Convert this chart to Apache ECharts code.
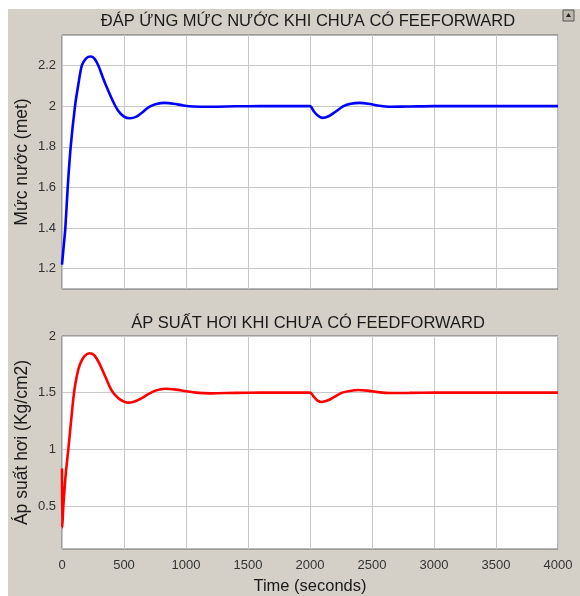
<!DOCTYPE html>
<html>
<head>
<meta charset="utf-8">
<script src="https://cdn.jsdelivr.net/npm/echarts@6/dist/echarts.min.js"></script>
<style>
  html, body { margin: 0; padding: 0; background: #fff; }
  #main { width: 580px; height: 596px; }
</style>
</head>
<body>
<div id="main"></div>
<script>
// muc nuoc (tren)
var levelTime = [0, 12, 27, 46, 70, 105, 130, 160, 195, 230, 260, 293, 330, 370, 410, 450, 500, 548, 600, 650, 700, 760, 830, 900, 980, 1060, 1200, 1400, 1600, 2000,
                 2030, 2060, 2100, 2150, 2200, 2270, 2330, 2400, 2470, 2560, 2650, 2800, 3000, 4000];
var levelValue = [1.22, 1.3, 1.4, 1.6, 1.8, 2.0, 2.1, 2.2, 2.235, 2.244, 2.235, 2.2, 2.14, 2.08, 2.025, 1.98, 1.948, 1.94, 1.948, 1.97, 1.995, 2.01, 2.016, 2.012, 2.003, 1.998, 1.997, 1.999, 2.0, 2.0,
                  1.975, 1.955, 1.942, 1.95, 1.97, 2.0, 2.012, 2.016, 2.012, 2.002, 1.997, 1.998, 2.0, 2.0];

// ap suat hoi (duoi)
var pressTime = [0, 2, 11, 30, 51, 75, 97, 120, 145, 180, 220, 260, 300, 350, 400, 450, 500, 527, 580, 640, 700, 760, 830, 920, 1000, 1100, 1200, 1400, 1600, 2000,
                 2030, 2060, 2093, 2140, 2200, 2260, 2320, 2388, 2460, 2550, 2644, 2800, 3000, 4000];
var pressValue = [0.83, 0.31, 0.5, 0.78, 1.0, 1.27, 1.5, 1.65, 1.75, 1.82, 1.848, 1.83, 1.76, 1.64, 1.52, 1.455, 1.42, 1.412, 1.42, 1.45, 1.49, 1.52, 1.535, 1.527, 1.512, 1.498, 1.494, 1.498, 1.5, 1.5,
                  1.465, 1.43, 1.418, 1.43, 1.465, 1.5, 1.515, 1.523, 1.518, 1.505, 1.497, 1.498, 1.5, 1.5];

var levelTicks = [1.2, 1.4, 1.6, 1.8, 2, 2.2];
var pressTicks = [0.5, 1, 1.5, 2];

function pairs(t, v) {
    return t.map(function (x, i) { return [x, v[i]]; });
}

var font = 'Liberation Sans, Arial, sans-serif';
var myChart = echarts.init(document.getElementById('main'));

function xAxis(idx, showLabel) {
    return {
        type: 'value', gridIndex: idx, min: 0, max: 4000, interval: 500,
        axisLine: {show: false},
        axisTick: {show: false},
        axisLabel: {show: showLabel, color: '#333', fontSize: 13, fontFamily: font, margin: 10,
                    formatter: function (v) { return String(v); }},
        splitLine: {show: true, lineStyle: {color: '#c8c8c8', width: 1}},
        name: showLabel ? 'Time (seconds)' : '',
        nameLocation: 'middle', nameGap: 29,
        nameTextStyle: {color: '#1a1a1a', fontSize: 16.5, fontFamily: font}
    };
}

function yAxis(idx, min, max, ticks, name) {
    return {
        type: 'value', gridIndex: idx, min: min, max: max,
        axisLine: {show: false},
        axisTick: {show: false, customValues: ticks},
        axisLabel: {color: '#333', fontSize: 13, fontFamily: font, margin: 6, customValues: ticks},
        splitLine: {show: true, lineStyle: {color: '#c8c8c8', width: 1}},
        name: name, nameLocation: 'middle', nameGap: 31, nameRotate: 90, nameMoveOverlap: false,
        nameTextStyle: {color: '#1a1a1a', fontSize: 17.5, fontFamily: font}
    };
}

option = {
    backgroundColor: '#d4d0c8',
    animation: false,
    graphic: [
        {type: 'rect', shape: {x: 0, y: 0, width: 580, height: 9}, style: {fill: '#fff'}},
        {type: 'rect', shape: {x: 0, y: 0, width: 8, height: 596}, style: {fill: '#fff'}},
        {type: 'rect', shape: {x: 563, y: 10, width: 11, height: 11}, style: {fill: '#bdb8ae', stroke: '#555', lineWidth: 1}},
        {type: 'polygon', shape: {points: [[566, 17], [568.5, 13], [571, 17]]}, style: {fill: '#222'}},
        {type: 'text', x: 308, y: 21, style: {text: 'ĐÁP ỨNG MỨC NƯỚC KHI CHƯA CÓ FEEFORWARD', fill: '#1a1a1a', font: '16.5px ' + font, textAlign: 'center', textVerticalAlign: 'middle'}},
        {type: 'text', x: 308, y: 323, style: {text: 'ÁP SUẤT HƠI KHI CHƯA CÓ FEEDFORWARD', fill: '#1a1a1a', font: '16.5px ' + font, textAlign: 'center', textVerticalAlign: 'middle'}}
    ],
    grid: [
        {left: 62, top: 35, width: 496, height: 254, show: true, backgroundColor: '#fff', borderColor: '#6a6a6a', borderWidth: 1},
        {left: 62, top: 336, width: 496, height: 214, show: true, backgroundColor: '#fff', borderColor: '#6a6a6a', borderWidth: 1}
    ],
    xAxis: [xAxis(0, false), xAxis(1, true)],
    yAxis: [
        yAxis(0, 1.1, 2.35, levelTicks, 'Mức nước (met)'),
        yAxis(1, 0.12, 2, pressTicks, 'Áp suất hơi (Kg/cm2)')
    ],
    series: [
        {
            name: 'Mức nước', type: 'line', xAxisIndex: 0, yAxisIndex: 0,
            data: pairs(levelTime, levelValue),
            showSymbol: false, smooth: 0.25,
            lineStyle: {color: '#0000ff', width: 2.6}
        },
        {
            name: 'Áp suất hơi', type: 'line', xAxisIndex: 1, yAxisIndex: 1,
            data: pairs(pressTime, pressValue),
            showSymbol: false, smooth: 0.25,
            lineStyle: {color: '#ff0000', width: 2.6}
        }
    ]
};
myChart.setOption(option);
window.onresize = myChart.resize;
</script>
</body>
</html>
